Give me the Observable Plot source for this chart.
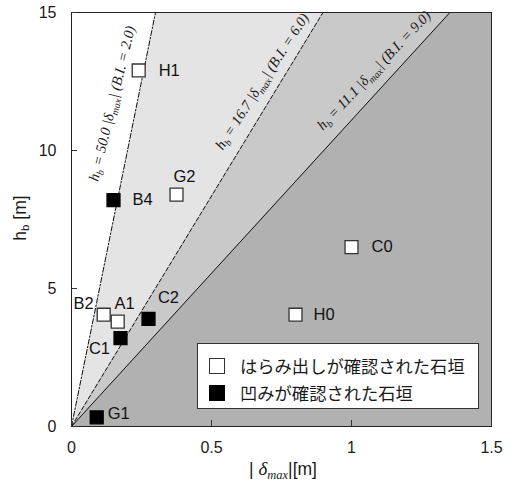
<!DOCTYPE html>
<html><head><meta charset="utf-8">
<script src="https://cdn.jsdelivr.net/npm/d3@7"></script>
<script src="https://cdn.jsdelivr.net/npm/@observablehq/plot@0.6"></script>
<style>
body{margin:0;background:#fff;}
#wrap{position:relative;width:513px;height:487px;font-family:"Liberation Sans",Arial,sans-serif;color:#1a1a1a;}
#wrap svg{position:absolute;left:0;top:0;}
.ytitle{position:absolute;left:20px;top:218px;transform:translate(-50%,-50%) rotate(-90deg);font-size:17.5px;white-space:nowrap;}
.ytitle sub{font-size:11.5px;vertical-align:-3px;}
.xtitle{position:absolute;left:283px;top:470px;transform:translate(-50%,-50%);font-size:17.5px;white-space:nowrap;}
.xtitle i{font-family:"Liberation Serif",serif;font-size:19px;}
.xtitle sub{font-size:12.5px;vertical-align:-4px;}
.legend{position:absolute;left:197px;top:343px;width:280px;height:64px;border:1px solid #333;background:#fff;}
.legend .row{position:absolute;left:11px;display:flex;align-items:center;font-family:"Noto Sans CJK JP",sans-serif;font-size:17.3px;}
.legend .sw{width:14px;height:14px;border:1.3px solid #333;margin-right:15px;}
</style></head><body><div id="wrap"></div>
<script>
// data
const names = ["H1","G2","B4","B2","A1","C1","C2","G1","C0","H0"];
const delta = [0.24,0.375,0.15,0.115,0.165,0.175,0.275,0.09,1.0,0.8];
const hb = [12.9,8.4,8.2,4.05,3.8,3.2,3.9,0.33,6.5,4.05];
const kind = ["bulge","bulge","dent","bulge","bulge","dent","dent","dent","bulge","bulge"];
const slopes = [50.0,16.7,11.1];
const biValues = ["2.0","6.0","9.0"];
const xTicks = [0,0.5,1,1.5];
const yTicks = [0,5,10,15];
const legendLabels = ["はらみ出しが確認された石垣","凹みが確認された石垣"];

const pts = names.map((n,i)=>({name:n, x:delta[i], y:hb[i], kind:kind[i]}));
const ends = [0,1.5];

// label offsets (px) for point labels
const off = {H1:[20,0,"start"],G2:[8,-18,"middle"],B4:[19,0,"start"],B2:[-20,-11,"middle"],A1:[7,-18,"middle"],
  C1:[-21,11,"middle"],C2:[20,-21,"middle"],G1:[11,-4,"start"],C0:[20,0,"start"],H0:[18,0,"start"]};

const eqStyle = [
  {yAt:11.7, dx:-25, rot:-76.5, dash:"5,2,1.5,2"},
  {yAt:12.5, dx:-19, rot:-57, dash:"4,2.5"},
  {yAt:12.9, dx:-23, rot:-46.5, dash:null}
];

const marks = [
  Plot.areaY(ends,{x:d=>d, y1:d=>slopes[1]*d, y2:d=>slopes[0]*d, fill:"#e4e4e4", clip:true}),
  Plot.areaY(ends,{x:d=>d, y1:d=>slopes[2]*d, y2:d=>slopes[1]*d, fill:"#c9c9c9", clip:true}),
  Plot.areaY(ends,{x:d=>d, y1:0, y2:d=>slopes[2]*d, fill:"#b1b1b1", clip:true}),
];
slopes.forEach((k,i)=>{
  marks.push(Plot.line(ends,{x:d=>d, y:d=>k*d, stroke:"#111", strokeWidth:1, strokeDasharray:eqStyle[i].dash, clip:true}));
  marks.push(Plot.text([k],{x:d=>eqStyle[i].yAt/d, y:eqStyle[i].yAt, dx:eqStyle[i].dx,
    text:d=>`h_{b} = ${d.toFixed(1)} |δ_{max}| (B.I. = ${biValues[i]})`,
    rotate:eqStyle[i].rot, fontFamily:"Liberation Serif", fontStyle:"italic", fontSize:14.5, fill:"#1a1a1a"}));
});
marks.push(
  Plot.frame({stroke:"#222", strokeWidth:1}),
  Plot.axisX({ticks:xTicks, tickSize:-6, fill:"none", label:null, stroke:"#333"}),
  Plot.axisY({ticks:yTicks, tickSize:-6, fill:"none", label:null, stroke:"#333"}),
  Plot.axisX({ticks:xTicks, tickSize:0, tickPadding:15, tickFormat:d=>`${d}`, label:null, fill:"#1a1a1a", fontSize:16}),
  Plot.axisY({ticks:yTicks, tickSize:0, tickPadding:15, tickFormat:d=>`${d}`, label:null, fill:"#1a1a1a", fontSize:16}),
  Plot.dot(pts,{x:"x", y:"y", symbol:"square", r:7.3, fill:d=>d.kind==="dent"?"#000":"#fff", stroke:d=>d.kind==="dent"?"#000":"#333", strokeWidth:1.3})
);
names.forEach((n,i)=>{
  const o = off[n];
  marks.push(Plot.text([pts[i]],{x:"x", y:"y", text:"name", dx:o[0], dy:o[1], textAnchor:o[2], fontSize:16.5, fill:"#111", fontFamily:"Liberation Sans"}));
});

const svg = Plot.plot({
  width:513, height:487,
  marginLeft:71, marginRight:22, marginTop:12, marginBottom:61,
  x:{domain:[0,1.5]}, y:{domain:[0,15]},
  style:{fontFamily:"Liberation Sans", fontSize:"16px", background:"transparent"},
  marks
});

// subscripts in equation labels
d3.select(svg).selectAll("text").each(function(){
  const t = this.textContent;
  if (!t.includes("_{")) return;
  const sel = d3.select(this);
  sel.text(null);
  const parts = t.split(/(_\{[^}]*\})/);
  let shifted = false;
  parts.forEach(p=>{
    if (!p) return;
    if (p.startsWith("_{")) {
      sel.append("tspan").attr("dy", "3.5px").attr("font-size","10px").text(p.slice(2,-1));
      shifted = true;
    } else {
      const ts = sel.append("tspan").text(p);
      if (shifted) { ts.attr("dy","-3.5px"); shifted = false; }
    }
  });
});

const wrap = document.getElementById("wrap");
wrap.appendChild(svg);
wrap.insertAdjacentHTML("beforeend",
  `<div class="ytitle">h<sub>b</sub> [m]</div>
   <div class="xtitle">| <i>δ<sub>max</sub></i>|[m]</div>
   <div class="legend">
     <div class="row" style="top:9px"><div class="sw" style="background:#fff"></div>${legendLabels[0]}</div>
     <div class="row" style="top:36px"><div class="sw" style="background:#000;border-color:#000"></div>${legendLabels[1]}</div>
   </div>`);
</script></body></html>
